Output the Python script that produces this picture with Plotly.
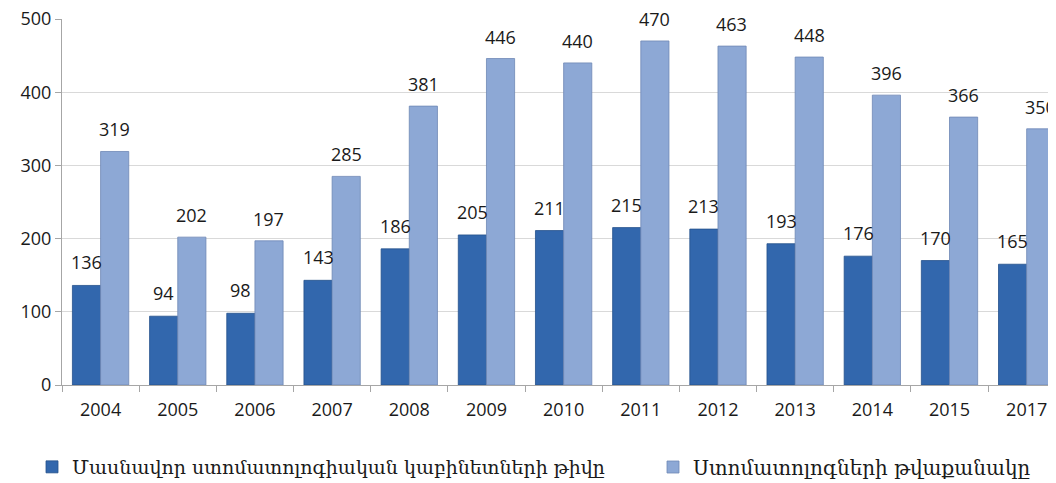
import plotly.graph_objects as go

years = ["2004", "2005", "2006", "2007", "2008", "2009", "2010", "2011", "2012", "2013", "2014", "2015", "2017"]
clinics = [136, 94, 98, 143, 186, 205, 211, 215, 213, 193, 176, 170, 165]
dentists = [319, 202, 197, 285, 381, 446, 440, 470, 463, 448, 396, 366, 350]
name_clinics = "Մասնավոր ստոմատոլոգիական կաբինետների թիվը"
name_dentists = "Ստոմատոլոգների թվաքանակը"

W, H = 1048, 475  # page body has an 8px default margin

fig = go.Figure()
fig.add_trace(go.Bar(x=years, y=clinics, name=name_clinics, legend="legend",
                     marker=dict(color="#3267AD", line=dict(color="#24508C", width=0.8))))
fig.add_trace(go.Bar(x=years, y=dentists, name=name_dentists, legend="legend2",
                     marker=dict(color="#8DA8D5", line=dict(color="#6F88B5", width=0.8))))

lab_font = dict(size=18, color="#1a1a1a", family="Open Sans")
annots = []
for i, (a, b) in enumerate(zip(clinics, dentists)):
    annots.append(dict(x=i, y=a, xref="x", yref="y", text=str(a), showarrow=False,
                       xshift=-14, yshift=23, yanchor="middle", font=lab_font))
    annots.append(dict(x=i, y=b, xref="x", yref="y", text=str(b), showarrow=False,
                       xshift=14, yshift=22, yanchor="middle", font=lab_font))

leg_font = dict(family="DejaVu Serif", size=19, color="#1a1a1a")
leg_y = 1 - 459 / H
fig.update_layout(
    width=W, height=H, autosize=False,
    margin=dict(l=54, r=0, t=11, b=98, autoexpand=False),
    paper_bgcolor="white", plot_bgcolor="white",
    barmode="group", bargap=0.27, bargroupgap=0,
    annotations=annots,
    font=dict(family="Open Sans", size=18, color="#1a1a1a"),
    showlegend=True,
    legend=dict(xref="container", yref="container", x=24 / W, xanchor="left",
                y=leg_y, yanchor="middle", font=leg_font, itemwidth=30,
                bgcolor="rgba(0,0,0,0)"),
    legend2=dict(xref="container", yref="container", x=645 / W, xanchor="left",
                 y=leg_y, yanchor="middle", font=dict(family="DejaVu Serif", size=20, color="#1a1a1a"),
                 itemwidth=30, bgcolor="rgba(0,0,0,0)"),
    xaxis=dict(type="category", range=[-0.5, 12.38], showgrid=False,
               showline=True, linecolor="#A6A6A6", linewidth=1,
               ticks="outside", tickson="boundaries", ticklen=6, tickcolor="#A6A6A6",
               ticklabelstandoff=8,
               tickfont=dict(size=18, family="Open Sans", color="#1a1a1a")),
    yaxis=dict(range=[0, 500], dtick=100, showgrid=True, gridcolor="#D9D9D9",
               showline=True, linecolor="#A6A6A6", linewidth=1,
               ticks="outside", ticklen=6, tickcolor="#A6A6A6",
               ticklabeloverflow="allow",
               tickfont=dict(size=18, family="Open Sans", color="#1a1a1a"), zeroline=False),
)

fig.write_html("out.html")
